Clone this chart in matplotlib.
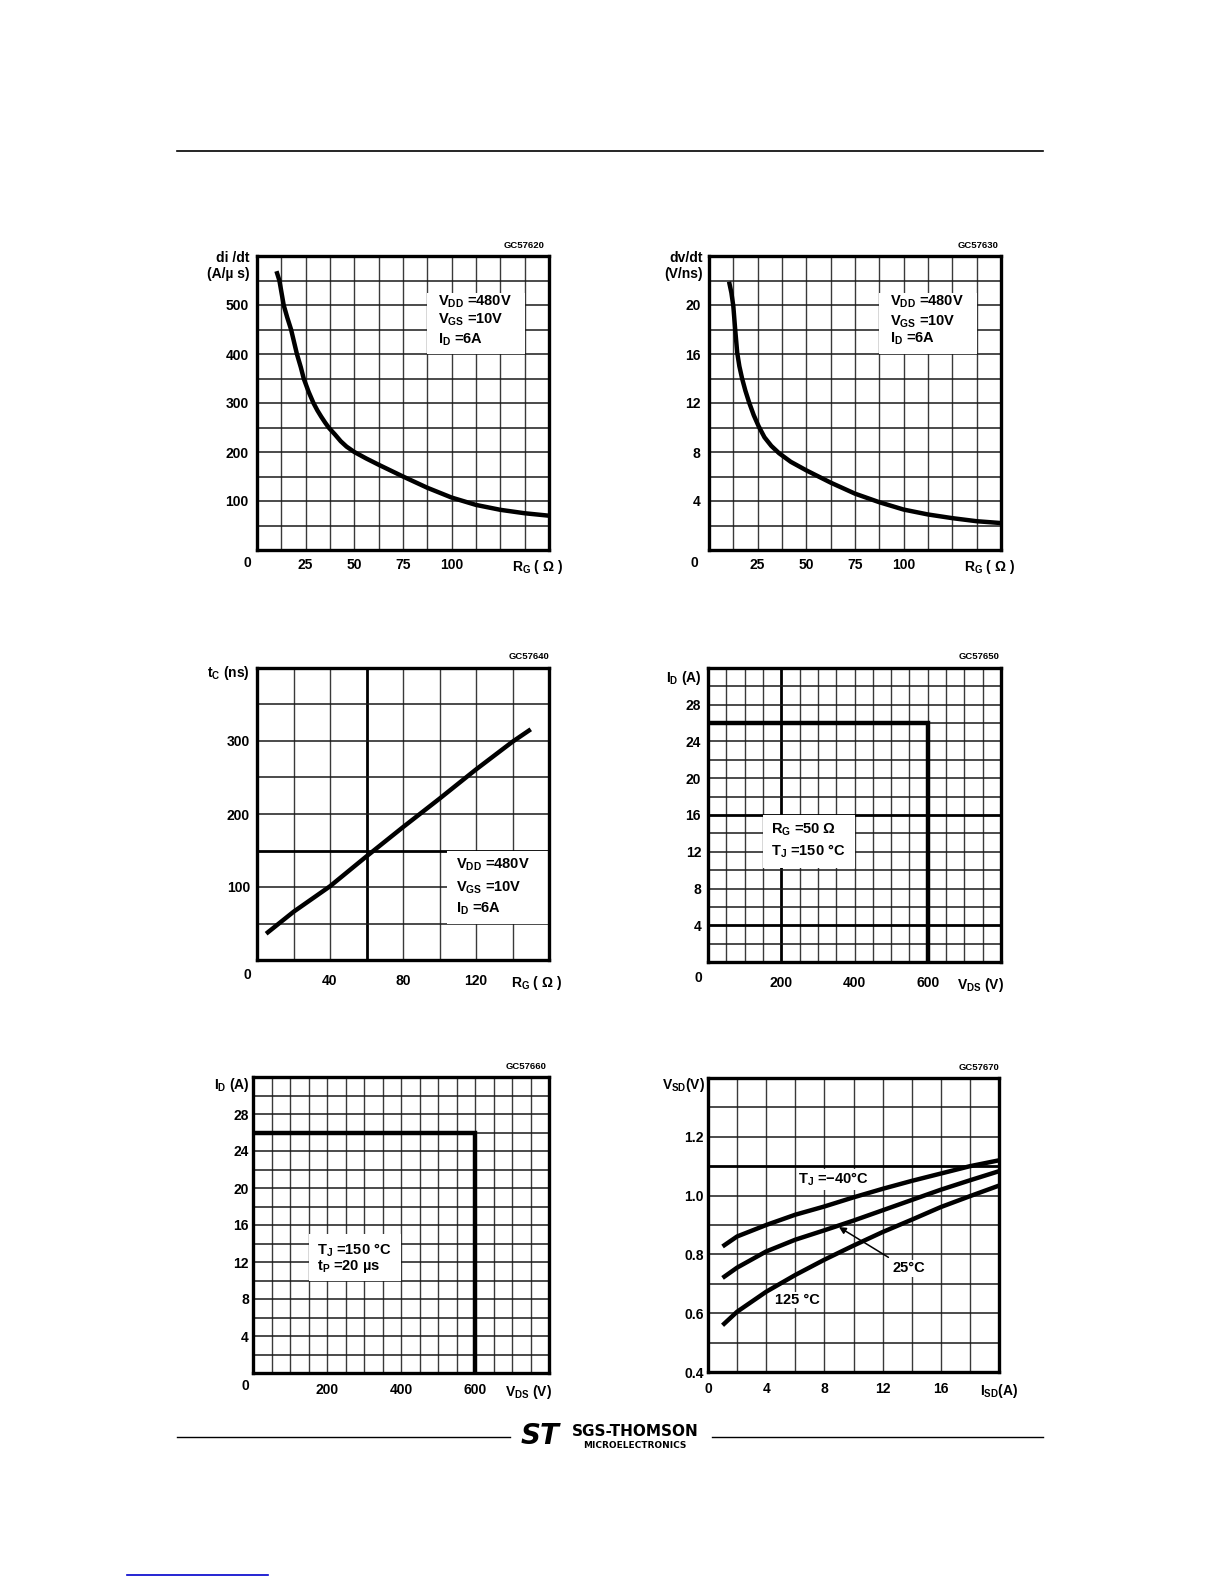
import numpy as np
import matplotlib
matplotlib.use('Agg')
import matplotlib.pyplot as plt
import matplotlib.patches as patches
from matplotlib.lines import Line2D

# --- CONFIGURATION ---
W, H = 1225, 1585
DPI = 100
FONT = 'Liberation Sans'
plt.rcParams['font.family'] = [FONT, 'DejaVu Sans']
plt.rcParams['font.weight'] = 'bold'
plt.rcParams['mathtext.fontset'] = 'custom'
plt.rcParams['mathtext.rm'] = FONT + ':bold'
plt.rcParams['mathtext.it'] = FONT + ':bold'
plt.rcParams['mathtext.bf'] = FONT + ':bold'
plt.rcParams['mathtext.default'] = 'rm'

TICK_FS = 10
BOX_FS = 10.5
CURVE_LW = 3.2

# --- DATA ---
# di/dt vs R_G
rg_didt = [10, 11.5, 13.7, 15.5, 17.5, 19, 20.5, 22.5, 24, 26.5, 29, 31, 33, 35, 37,
           40, 43, 46, 50, 56, 62.5, 75, 87.5, 100, 112.5, 125, 137.5, 150]
didt = [569, 550, 500, 475, 450, 425, 400, 373, 350, 323, 300, 285, 272, 260, 249,
        236, 222, 211, 200, 187, 174, 150, 127, 107, 92, 82, 75, 70]

# dv/dt vs R_G
rg_dvdt = [10.3, 11.5, 12.5, 13.4, 14.5, 15.6, 17, 18.7, 20.7, 23, 25.5, 28.5, 32, 36,
           42, 50, 62.5, 75, 87.5, 100, 112.5, 125, 137.5, 150]
dvdt = [21.9, 21.0, 19.9, 18.1, 16.1, 15.0, 14.0, 13.0, 12.0, 11.0, 10.1, 9.2, 8.5, 7.9,
        7.2, 6.5, 5.5, 4.6, 3.9, 3.3, 2.9, 2.6, 2.35, 2.2]

# t_C vs R_G
rg_tc = [5, 20, 40, 60, 80, 100, 120, 140, 150]
tc = [36, 66, 101, 142, 182, 221, 261, 299, 316]

# safe operating area corners (same for both SOA charts)
soa_v = [0, 600, 600]
soa_i = [26, 26, 0]

# V_SD vs I_SD
isd = [1, 2, 4, 6, 8, 10, 12, 14, 16, 18, 20]
vsd_m40 = [0.827, 0.861, 0.900, 0.935, 0.963, 0.994, 1.023, 1.050, 1.075, 1.100, 1.120]
vsd_25 = [0.720, 0.755, 0.810, 0.850, 0.882, 0.915, 0.950, 0.985, 1.020, 1.052, 1.083]
vsd_125 = [0.559, 0.605, 0.673, 0.730, 0.782, 0.830, 0.876, 0.918, 0.961, 0.998, 1.034]


def add_ax(fig, x0, y0, x1, y1):
    """axes from pixel box (top-left origin)"""
    return fig.add_axes([x0 / W, 1 - y1 / H, (x1 - x0) / W, (y1 - y0) / H])


def setup(ax, xlim, ylim, xstep, ystep, major_x=(), major_y=()):
    ax.set_xlim(*xlim)
    ax.set_ylim(*ylim)
    for x in np.arange(xlim[0] + xstep, xlim[1] - xstep / 2, xstep):
        heavy = any(abs(x - m) < 1e-6 for m in major_x)
        ax.axvline(x, color='black' if heavy else '#3a3a3a',
                   lw=2.0 if heavy else 1.0, zorder=1)
    for y in np.arange(ylim[0] + ystep, ylim[1] - ystep / 2, ystep):
        heavy = any(abs(y - m) < 1e-6 for m in major_y)
        ax.axhline(y, color='black' if heavy else '#1a1a1a',
                   lw=2.0 if heavy else 1.1, zorder=1)
    for s in ax.spines.values():
        s.set_linewidth(2.4)
        s.set_zorder(5)
    ax.tick_params(length=0, labelsize=TICK_FS)


def curve(ax, x, y):
    ax.plot(x, y, color='black', lw=CURVE_LW, solid_capstyle='butt',
            solid_joinstyle='round', zorder=4)


def code(ax, txt, x=0.99, y=1.02):
    ax.text(x, y, txt, transform=ax.transAxes, ha='right', va='bottom',
            fontsize=6.8, fontweight='bold')


def white_box(ax, x, y, w, h):
    ax.add_patch(patches.Rectangle((x, y), w, h, fc='white', ec='none', zorder=2))


fig = plt.figure(figsize=(W / DPI, H / DPI), dpi=DPI)
fig.patch.set_facecolor('white')

# --- CHART 1: di/dt ---
ax = add_ax(fig, 257, 256, 549, 550)
setup(ax, (0, 150), (0, 600), 12.5, 50)
white_box(ax, 87.5, 400, 50, 125)
curve(ax, rg_didt, didt)
ax.set_xticks([25, 50, 75, 100, 144], ['25', '50', '75', '100', r'R$_{\rm G}$ ( Ω )'])
ax.set_yticks([100, 200, 300, 400, 500])
ax.tick_params(axis='x', pad=6)
ax.tick_params(axis='y', pad=6)
ax.text(-0.034, -0.044, '0', transform=ax.transAxes, ha='center', va='center', fontsize=TICK_FS)
ax.text(-0.024, 0.966, 'di /dt\n(A/µ s)', transform=ax.transAxes, ha='right', va='center',
        fontsize=TICK_FS, linespacing=1.2)
ax.text(93, 507, r'V$_{\rm DD}$ =480V', fontsize=BOX_FS, va='center', zorder=3)
ax.text(93, 469, r'V$_{\rm GS}$ =10V', fontsize=BOX_FS, va='center', zorder=3)
ax.text(93, 429, r'I$_{\rm D}$ =6A', fontsize=BOX_FS, va='center', zorder=3)
code(ax, 'GC57620', 0.986)

# --- CHART 2: dv/dt ---
ax = add_ax(fig, 709, 256, 1001, 550)
setup(ax, (0, 150), (0, 24), 12.5, 2)
white_box(ax, 87.5, 16, 50, 5)
curve(ax, rg_dvdt, dvdt)
ax.set_xticks([25, 50, 75, 100, 144], ['25', '50', '75', '100', r'R$_{\rm G}$ ( Ω )'])
ax.set_yticks([4, 8, 12, 16, 20])
ax.tick_params(axis='x', pad=6)
ax.tick_params(axis='y', pad=6)
ax.text(-0.05, -0.044, '0', transform=ax.transAxes, ha='center', va='center', fontsize=TICK_FS)
ax.text(-0.02, 0.966, 'dv/dt\n(V/ns)', transform=ax.transAxes, ha='right', va='center',
        fontsize=TICK_FS, linespacing=1.2)
ax.text(93, 20.27, r'V$_{\rm DD}$ =480V', fontsize=BOX_FS, va='center', zorder=3)
ax.text(93, 18.64, r'V$_{\rm GS}$ =10V', fontsize=BOX_FS, va='center', zorder=3)
ax.text(93, 17.2, r'I$_{\rm D}$ =6A', fontsize=BOX_FS, va='center', zorder=3)
code(ax, 'GC57630', 0.99)

# --- CHART 3: t_C ---
ax = add_ax(fig, 257, 668, 549, 960)
setup(ax, (0, 160), (0, 400), 20, 50, major_x=(60,), major_y=(150,))
white_box(ax, 104, 50, 56, 100)
curve(ax, rg_tc, tc)
ax.set_xticks([40, 80, 120, 153], ['40', '80', '120', r'R$_{\rm G}$ ( Ω )'])
ax.set_yticks([100, 200, 300])
ax.tick_params(axis='x', pad=10)
ax.tick_params(axis='y', pad=5)
ax.text(-0.034, -0.052, '0', transform=ax.transAxes, ha='center', va='center', fontsize=TICK_FS)
ax.text(-0.024, 0.983, r't$_{\rm C}$ (ns)', transform=ax.transAxes, ha='right', va='center',
        fontsize=TICK_FS)
ax.text(109, 130, r'V$_{\rm DD}$ =480V', fontsize=BOX_FS, va='center', zorder=3)
ax.text(109, 99, r'V$_{\rm GS}$ =10V', fontsize=BOX_FS, va='center', zorder=3)
ax.text(109, 70, r'I$_{\rm D}$ =6A', fontsize=BOX_FS, va='center', zorder=3)
code(ax, 'GC57640', 1.0, 1.025)

# --- CHART 4: SOA, R_G = 50 ohm ---
ax = add_ax(fig, 708, 668, 1001, 962)
setup(ax, (0, 800), (0, 32), 50, 2, major_x=(200,), major_y=(4, 16))
white_box(ax, 151, 10.2, 250, 5.8)
ax.plot(soa_v, soa_i, color='black', lw=CURVE_LW, solid_joinstyle='miter', zorder=4)
ax.set_xticks([200, 400, 600, 745], ['200', '400', '600', r'V$_{\rm DS}$ (V)'])
ax.set_yticks([4, 8, 12, 16, 20, 24, 28])
ax.tick_params(axis='x', pad=10)
ax.tick_params(axis='y', pad=5)
ax.text(-0.034, -0.054, '0', transform=ax.transAxes, ha='center', va='center', fontsize=TICK_FS)
ax.text(-0.02, 0.966, r'I$_{\rm D}$ (A)', transform=ax.transAxes, ha='right', va='center',
        fontsize=TICK_FS)
ax.text(172, 14.4, r'R$_{\rm G}$ =50 Ω', fontsize=BOX_FS, va='center', zorder=3)
ax.text(172, 12.1, r'T$_{\rm J}$ =150 °C', fontsize=BOX_FS, va='center', zorder=3)
code(ax, 'GC57650', 0.995, 1.025)

# --- CHART 5: SOA, pulsed ---
ax = add_ax(fig, 253, 1077, 549, 1373)
setup(ax, (0, 800), (0, 32), 50, 2)
white_box(ax, 151, 10.0, 249, 5.0)
ax.plot(soa_v, soa_i, color='black', lw=CURVE_LW, solid_joinstyle='miter', zorder=4)
ax.set_xticks([200, 400, 600, 745], ['200', '400', '600', r'V$_{\rm DS}$ (V)'])
ax.set_yticks([4, 8, 12, 16, 20, 24, 28])
ax.tick_params(axis='x', pad=7)
ax.tick_params(axis='y', pad=3)
ax.text(-0.027, -0.044, '0', transform=ax.transAxes, ha='center', va='center', fontsize=TICK_FS)
ax.text(-0.01, 0.973, r'I$_{\rm D}$ (A)', transform=ax.transAxes, ha='right', va='center',
        fontsize=TICK_FS)
ax.text(174, 13.3, r'T$_{\rm J}$ =150 °C', fontsize=BOX_FS, va='center', zorder=3)
ax.text(174, 11.5, r't$_{\rm P}$ =20 µs', fontsize=BOX_FS, va='center', zorder=3)
code(ax, 'GC57660', 0.99, 1.02)

# --- CHART 6: source-drain diode ---
ax = add_ax(fig, 708, 1078, 999, 1372)
setup(ax, (0, 20), (0.4, 1.4), 2, 0.1, major_y=(1.1,))
curve(ax, isd, vsd_m40)
curve(ax, isd, vsd_25)
curve(ax, isd, vsd_125)
ax.set_xticks([0, 4, 8, 12, 16, 20], ['0', '4', '8', '12', '16', r'I$_{\rm SD}$(A)'])
ax.set_yticks([0.4, 0.6, 0.8, 1.0, 1.2], ['0.4', '0.6', '0.8', '1.0', '1.2'])
ax.tick_params(axis='x', pad=7)
ax.tick_params(axis='y', pad=3)
ax.text(-0.01, 0.976, r'V$_{\rm SD}$(V)', transform=ax.transAxes, ha='right', va='center',
        fontsize=TICK_FS)
bb = dict(fc='white', ec='none', pad=1.0)
ax.text(6.2, 1.055, r'T$_{\rm J}$ =−40°C', fontsize=BOX_FS, va='center', zorder=3, bbox=bb)
ax.text(12.7, 0.753, '25°C', fontsize=BOX_FS, va='center', zorder=3, bbox=bb)
ax.text(4.6, 0.645, '125 °C', fontsize=BOX_FS, va='center', zorder=3, bbox=bb)
ax.annotate('', xy=(9.0, 0.893), xytext=(12.4, 0.79), zorder=4,
            arrowprops=dict(arrowstyle='-|>', lw=1.1, color='black',
                            mutation_scale=10, shrinkA=0, shrinkB=0))
code(ax, 'GC57670', 1.0, 1.02)

# --- PAGE FURNITURE ---
fig.add_artist(Line2D([177 / W, 1043 / W], [1 - 150.5 / H] * 2, color='black', lw=1.2))
fig.add_artist(Line2D([177 / W, 510 / W], [1 - 1437 / H] * 2, color='black', lw=1.0))
fig.add_artist(Line2D([712 / W, 1043 / W], [1 - 1437 / H] * 2, color='black', lw=1.0))
fig.text(540 / W, 1 - 1436 / H, 'ST', ha='center', va='center', fontsize=20,
         fontweight='heavy', style='italic', family='DejaVu Sans')
fig.text(635 / W, 1 - 1431 / H, 'SGS-THOMSON', ha='center', va='center', fontsize=11,
         fontweight='heavy', family='DejaVu Sans')
fig.text(635 / W, 1 - 1446 / H, 'MICROELECTRONICS', ha='center', va='center', fontsize=6.5,
         fontweight='bold', family='DejaVu Sans')
fig.add_artist(Line2D([127 / W, 268 / W], [1 - 1575 / H] * 2, color='#0000cc', lw=1.2))

fig.savefig('out.png', dpi=DPI, facecolor='white')
